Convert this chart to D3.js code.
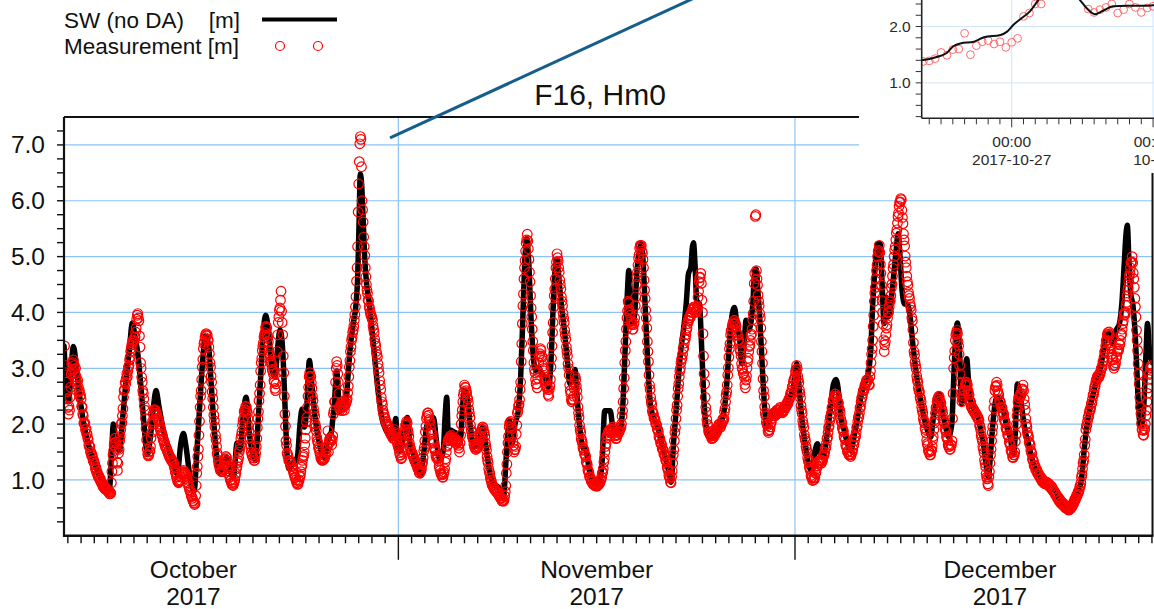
<!DOCTYPE html>
<html>
<head>
<meta charset="utf-8">
<script src="https://cdn.jsdelivr.net/npm/d3@7"></script>
<style>
  html, body { margin: 0; padding: 0; background: #fff; }
  svg { display: block; font-family: "Liberation Sans", Arial, Helvetica, sans-serif; }
</style>
</head>
<body>
<svg id="chart" width="1154" height="609"></svg>
<script>
// ---- Data -------------------------------------------------------------
// Model (SW, no data assimilation): vertices as [day since 2017-10-01 00:00 UTC, Hm0 in m]
const modelDays = [
  5.71, 6.04, 6.42, 6.67, 6.97, 7.30, 7.68, 8.06, 8.44, 8.81, 9.14, 9.32, 9.44, 9.70, 9.90,
  10.15, 10.40, 10.65, 10.88, 11.08, 11.26, 11.51, 11.76, 12.02, 12.27, 12.47, 12.67, 12.90,
  13.23, 13.60, 13.98, 14.28, 14.54, 14.74, 14.94, 15.24, 15.55, 15.75, 15.95, 16.20, 16.40,
  16.63, 16.81, 17.01, 17.21, 17.46, 17.77, 18.02, 18.27, 18.52, 18.80, 19.03, 19.23, 19.48,
  19.73, 19.98, 20.19, 20.41, 20.61, 20.84, 20.97, 21.17, 21.42, 21.67, 21.85, 22.05, 22.25,
  22.43, 22.56, 22.71, 23.01, 23.36, 23.56, 23.72, 23.89, 24.07, 24.27, 24.45, 24.70, 25.03,
  25.3625, 25.47, 25.54, 25.5875, 25.6375, 25.733, 25.804, 25.921, 25.967, 26.0125, 26.071,
  26.129, 26.1625, 26.1875, 26.33, 26.483, 26.529, 26.5875, 26.646, 26.717, 26.8125, 26.929,
  27.0, 27.1, 27.22, 27.39, 27.59, 27.80, 27.92, 28.02, 28.12, 28.22, 28.33, 28.45, 28.60, 28.81,
  29.01, 29.23, 29.49, 29.74, 30.07, 30.42, 30.67, 30.80, 30.95, 31.18, 31.43, 31.68, 31.88,
  32.13, 32.44, 32.69, 32.94, 33.19, 33.39, 33.65, 33.90, 34.15, 34.40, 34.53, 34.66, 34.78,
  34.96, 35.21, 35.46, 35.71, 35.84, 35.97, 36.17, 36.42, 36.72, 37.05, 37.38, 37.63, 37.88,
  38.18, 38.56, 38.94, 39.19, 39.40, 39.60, 39.82, 40.07, 40.25, 40.40, 40.58, 40.71, 40.88,
  41.03, 41.21, 41.39, 41.59, 41.84, 42.09, 42.35, 42.52, 42.72, 42.87, 43.00, 43.18, 43.35,
  43.56, 43.78, 43.98, 44.19, 44.36, 44.54, 44.74, 44.94, 45.19, 45.45, 45.75, 46.13, 46.40,
  46.61, 47.02, 47.22, 47.52, 47.77, 47.97, 48.15, 48.33, 48.43, 48.58, 48.73, 48.88, 49.03,
  49.24, 49.34, 49.49, 49.66, 49.84, 50.04, 50.29, 50.55, 50.80, 51.05, 51.30, 51.50, 51.63,
  51.81, 52.01, 52.19, 52.36, 52.56, 52.77, 52.94, 53.12, 53.24, 53.32, 53.45, 53.57, 53.77,
  53.95, 54.13, 54.28, 54.58, 54.96, 55.34, 55.64, 55.84, 56.04, 56.22, 56.42, 56.60, 56.80,
  56.98, 57.15, 57.30, 57.48, 57.66, 57.81, 57.96, 58.06, 58.19, 58.36, 58.54, 58.72, 58.87,
  59.12, 59.37, 59.62, 60.00, 60.33, 60.58, 60.83, 61.03, 61.14, 61.29, 61.51, 61.77, 62.02,
  62.27, 62.52, 62.70, 62.90, 63.15, 63.40, 63.66, 63.91, 64.11, 64.31, 64.46, 64.72, 64.97,
  65.22, 65.47, 65.73, 65.98, 66.23, 66.48, 66.73, 66.88, 67.06, 67.23, 67.44, 67.59, 67.74,
  67.89, 68.07, 68.24, 68.45, 68.65, 68.80, 68.95, 69.10, 69.30, 69.50, 69.71, 69.91, 70.08,
  70.29, 70.51, 70.76, 71.02, 71.27, 71.47, 71.72, 71.92, 72.13, 72.35, 72.61, 72.86, 73.03,
  73.19, 73.29, 73.44, 73.61, 73.79, 73.99, 74.14, 74.35, 74.60, 74.85, 75.05, 75.25, 75.45,
  75.63, 75.81, 76.01, 76.26, 76.51, 76.77, 77.02, 77.27, 77.52, 77.65, 77.82, 77.98, 78.15,
  78.40, 78.66, 79.04, 79.41, 79.79, 80.17, 80.55, 80.93, 81.30, 81.68, 82.06, 82.44, 82.69,
  82.87, 83.07, 83.32, 83.57, 83.83, 84.08, 84.33, 84.58, 84.78, 85.04, 85.29, 85.54, 85.72,
  85.89, 86.04, 86.14, 86.25, 86.40, 86.55, 86.73, 86.85, 87.00, 87.15, 87.36, 87.56, 87.66,
  87.81, 87.99, 88.04
];
const modelHm0 = [
  3.40, 2.40, 3.39, 2.96, 2.36, 1.89, 1.53, 1.26, 1.05, 0.90, 0.84, 1.53, 2.00, 1.59, 1.53,
  2.12, 2.78, 3.32, 3.81, 3.56, 3.32, 2.72, 2.00, 1.45, 1.83, 2.30, 2.60, 2.30,
  1.89, 1.59, 1.29, 1.11, 1.65, 1.83, 1.59, 1.05, 0.80, 1.47, 2.24, 3.14, 3.58,
  3.44, 2.84, 2.12, 1.53, 1.14, 1.29, 1.41, 1.17, 1.05, 1.66, 1.53, 2.07, 2.48,
  1.83, 1.47, 1.35, 2.12, 2.96, 3.80, 3.95, 3.68, 3.02, 2.84, 3.32, 3.69, 3.32,
  2.30, 1.53, 1.20, 1.29, 1.41, 2.00, 2.27, 1.95, 2.30, 3.14, 2.72, 2.12, 1.65,
  1.40, 1.46, 1.53, 1.65, 1.70, 1.73, 1.81, 1.85, 1.91, 2.03, 2.15,
  2.27, 2.38, 2.47, 2.95, 2.47, 2.33, 2.22, 2.28, 2.36, 2.37, 2.37,
  2.38, 2.55, 2.96, 3.44, 3.80, 4.15, 4.63, 5.53, 6.48, 6.30, 5.71, 4.99, 4.51, 4.15,
  3.68, 3.14, 2.54, 2.12, 1.89, 1.77, 1.89, 2.10, 1.59, 1.53, 1.89, 2.12, 1.65,
  1.47, 1.17, 1.08, 1.53, 2.00, 1.95, 2.12, 1.65, 1.35, 1.53, 2.12, 2.48, 1.77,
  1.89, 1.86, 1.83, 1.77, 2.24, 2.60, 2.54, 2.00, 1.59, 1.65, 1.95, 1.59, 1.17,
  0.93, 0.87, 0.69, 1.53, 2.07, 1.65, 2.00, 2.24, 2.84, 3.80, 4.99, 5.32, 4.81,
  3.92, 3.20, 2.96, 3.02, 2.90, 2.84, 2.66, 3.02, 4.15, 4.81, 4.95, 4.51, 4.09,
  3.68, 3.14, 2.72, 2.84, 2.98, 2.42, 1.89, 1.59, 1.53, 1.17, 0.93, 0.93, 1.30,
  2.24, 2.24, 1.95, 1.83, 1.89, 2.30, 3.32, 4.39, 4.75, 4.15, 3.80, 3.98, 4.69,
  5.11, 5.23, 4.99, 4.15, 3.20, 2.42, 2.12, 2.00, 1.77, 1.53, 1.29, 1.11, 0.96,
  1.65, 2.24, 2.84, 3.32, 3.68, 4.15, 4.69, 4.81, 5.17, 5.25, 4.81, 4.21, 4.15,
  3.32, 2.36, 1.95, 1.77, 1.77, 2.00, 2.24, 2.72, 3.44, 3.92, 4.09, 3.80, 3.56,
  3.08, 3.44, 3.86, 3.68, 3.80, 4.15, 4.75, 4.78, 4.39, 3.80, 2.96, 2.24, 1.95,
  2.12, 2.24, 2.12, 2.24, 2.30, 2.48, 2.60, 2.90, 3.08, 2.72, 2.12, 1.65, 1.29,
  1.15, 1.53, 1.65, 1.47, 1.41, 1.77, 2.24, 2.72, 2.80, 2.54, 2.12, 1.89, 1.65,
  1.53, 1.77, 2.12, 2.48, 2.72, 2.84, 3.32, 4.15, 4.81, 5.23, 5.23, 4.51, 3.80,
  4.27, 3.92, 4.15, 4.63, 5.11, 5.41, 4.99, 4.39, 4.15, 4.15, 3.92, 3.44, 3.08,
  2.72, 2.42, 2.12, 1.89, 1.77, 2.12, 2.42, 2.54, 2.24, 2.00, 1.77, 2.00, 2.96,
  3.68, 3.81, 3.32, 2.36, 2.72, 3.17, 2.72, 2.36, 2.24, 2.12, 1.89, 1.65, 1.29,
  1.05, 1.53, 2.12, 2.48, 2.42, 2.24, 1.95, 1.77, 1.47, 1.77, 2.72, 2.60, 2.30,
  1.89, 1.65, 1.29, 1.11, 0.99, 0.93, 0.87, 0.69, 0.57, 0.50, 0.63, 0.81, 1.05,
  1.53, 1.95, 2.30, 2.54, 2.84, 2.96, 3.32, 3.62, 3.62, 3.44, 3.68, 3.80, 4.15,
  4.81, 5.41, 5.56, 4.99, 4.33, 4.15, 3.62, 3.02, 2.24, 1.95, 2.24, 3.32, 3.80,
  3.32, 3.14, 3.10
];

// Hourly measurements, one row per day, starting 2017-10-06 18:00 UTC
const obsOct = [
  3.40, 3.05, 2.92, 2.75, 2.58, 2.45,
  2.30, 2.18, 2.32, 2.25, 2.48, 2.66, 2.90, 3.08, 2.95, 3.10, 3.15, 2.98, 3.05, 2.90, 3.00, 2.85, 2.76, 2.70, 2.78, 2.66, 2.58, 2.60, 2.50, 2.52,
  2.45, 2.32, 2.30, 2.18, 2.15, 2.02, 2.00, 2.02, 1.90, 1.92, 1.83, 1.82, 1.75, 1.72, 1.63, 1.60, 1.60, 1.50, 1.50, 1.44, 1.45, 1.40, 1.34, 1.35,
  1.30, 1.28, 1.20, 1.22, 1.14, 1.15, 1.10, 1.06, 1.08, 1.05, 1.00, 1.02, 0.98, 0.94, 0.95, 0.92, 0.88, 0.91, 0.88, 0.84, 0.87, 0.85, 0.82, 0.84,
  0.82, 0.79, 0.81, 0.78, 0.75, 0.78, 0.76, 0.95, 1.15, 1.30, 1.45, 1.52, 1.62, 1.66, 1.75, 1.68, 1.55, 1.32, 1.17, 1.30, 1.48, 1.55, 1.70, 1.78,
  1.90, 2.00, 2.03, 2.15, 2.28, 2.48, 2.60, 2.62, 2.75, 2.72, 2.82, 2.90, 2.85, 2.95, 3.02, 3.05, 3.15, 3.20, 3.30, 3.36, 3.42, 3.45, 3.50, 3.48,
  3.50, 3.55, 3.56, 3.65, 3.72, 3.88, 3.95, 3.98, 3.90, 3.85, 3.58, 3.38, 3.10, 3.00, 2.84, 2.75, 2.60, 2.55, 2.45, 2.32, 2.25, 2.10, 1.92, 1.72,
  1.55, 1.46, 1.43, 1.45, 1.50, 1.52, 1.60, 1.75, 1.85, 2.00, 2.06, 2.18, 2.20, 2.26, 2.24, 2.25, 2.20, 2.18, 2.15, 2.10, 2.08, 2.05, 2.00, 1.96,
  1.90, 1.88, 1.82, 1.80, 1.78, 1.72, 1.70, 1.67, 1.62, 1.60, 1.59, 1.55, 1.55, 1.50, 1.49, 1.45, 1.44, 1.40, 1.40, 1.39, 1.35, 1.35, 1.32, 1.33,
  1.30, 1.24, 1.21, 1.15, 1.12, 1.06, 1.05, 0.99, 0.97, 0.95, 0.97, 0.98, 1.00, 1.05, 1.06, 1.10, 1.14, 1.15, 1.17, 1.13, 1.12, 1.10, 1.11, 1.08,
  1.05, 1.01, 0.95, 0.90, 0.87, 0.82, 0.80, 0.77, 0.72, 0.70, 0.67, 0.63, 0.62, 0.59, 0.56, 0.58, 0.72, 0.90, 1.12, 1.24, 1.42, 1.55, 1.80, 2.05,
  2.30, 2.50, 2.60, 2.80, 3.02, 3.16, 3.35, 3.44, 3.48, 3.55, 3.60, 3.62, 3.58, 3.60, 3.52, 3.50, 3.38, 3.26, 3.10, 3.02, 2.86, 2.75, 2.58, 2.46,
  2.30, 2.16, 2.06, 1.95, 1.80, 1.72, 1.60, 1.48, 1.43, 1.35, 1.28, 1.26, 1.20, 1.17, 1.17, 1.15, 1.15, 1.19, 1.20, 1.26, 1.30, 1.35, 1.37, 1.42,
  1.40, 1.34, 1.25, 1.20, 1.16, 1.09, 1.05, 1.00, 0.99, 0.95, 0.92, 0.92, 0.90, 0.94, 0.96, 1.00, 1.07, 1.12, 1.20, 1.24, 1.31, 1.35, 1.40, 1.50,
  1.55, 1.62, 1.74, 1.80, 1.86, 1.98, 2.05, 2.10, 2.22, 2.25, 2.26, 2.32, 2.30, 2.24, 2.20, 2.10, 1.96, 1.88, 1.75, 1.64, 1.60, 1.50, 1.45, 1.44,
  1.40, 1.39, 1.35, 1.35, 1.42, 1.48, 1.60, 1.74, 1.94, 2.10, 2.22, 2.42, 2.55, 2.70, 2.95, 3.10, 3.18, 3.32, 3.40, 3.46, 3.56, 3.60, 3.64, 3.74,
  3.75, 3.72, 3.60, 3.55, 3.47, 3.32, 3.25, 3.22, 3.13, 3.10, 3.06, 2.98, 2.95, 2.90, 2.78, 2.75, 2.64, 2.60, 2.72, 2.92, 3.30, 3.60, 3.82, 3.92,
  4.04, 4.08, 4.22, 4.38, 4.02, 3.82, 3.60, 3.22, 2.92, 2.50, 2.18, 1.96, 1.70, 1.62, 1.48, 1.45, 1.41, 1.35, 1.35, 1.34, 1.30, 1.30, 1.24, 1.24,
  1.20, 1.17, 1.12, 1.10, 1.05, 1.04, 1.00, 0.96, 0.95, 0.92, 0.93, 0.98, 1.00, 1.06, 1.08, 1.15, 1.23, 1.27, 1.35, 1.41, 1.44, 1.50, 1.63, 1.75,
  1.90, 2.04, 2.12, 2.30, 2.50, 2.66, 2.85, 2.92, 2.86, 2.85, 2.74, 2.64, 2.50, 2.42, 2.28, 2.20, 2.14, 2.00, 1.95, 1.88, 1.76, 1.70, 1.66, 1.58,
  1.55, 1.50, 1.46, 1.40, 1.38, 1.36, 1.35, 1.37, 1.36, 1.38, 1.39, 1.43, 1.54, 1.49, 1.59, 1.60, 1.88, 1.50, 1.66, 1.73, 1.75, 1.69, 1.73, 1.63,
  1.72, 1.79, 2.18, 2.24, 2.40, 2.40, 2.75, 3.00, 3.12, 3.05, 2.90, 2.75, 2.55, 2.31, 2.25, 2.30, 2.34, 2.40, 2.24, 2.30, 2.40, 2.34, 2.25, 2.33,
  2.36, 2.38, 2.42, 2.45, 2.56, 2.68, 2.85, 3.02, 3.14, 3.30, 3.38, 3.50, 3.55, 3.64, 3.68, 3.75, 3.86, 3.96, 4.10, 4.28, 4.56, 4.80, 5.18, 5.80,
  6.30, 6.70, 7.02, 7.15, 7.10, 6.61, 6.00, 5.84, 5.62, 5.35, 5.18, 5.02, 4.80, 4.64, 4.50, 4.40, 4.34, 4.22, 4.20, 4.10, 4.06, 4.00, 3.95, 3.94,
  3.90, 3.86, 3.76, 3.70, 3.64, 3.52, 3.45, 3.40, 3.30, 3.25, 3.20, 3.08, 3.00, 2.92, 2.78, 2.70, 2.62, 2.48, 2.40, 2.35, 2.25, 2.20, 2.17, 2.12,
  2.10, 2.05, 2.04, 2.00, 1.97, 1.98, 1.95, 1.90, 1.89, 1.85, 1.84, 1.80, 1.80, 1.79, 1.75, 1.75, 1.80, 1.90, 1.85, 1.82, 1.74, 1.70, 1.67, 1.62
];
const obsNov = [
  1.60, 1.56, 1.49, 1.45, 1.44, 1.38, 1.40, 1.50, 1.58, 1.70, 1.80, 1.83, 1.90, 1.98, 2.00, 2.05, 2.02, 1.90, 1.85, 1.78, 1.66, 1.60, 1.56, 1.50,
  1.50, 1.48, 1.44, 1.42, 1.41, 1.36, 1.35, 1.33, 1.29, 1.28, 1.26, 1.21, 1.20, 1.18, 1.13, 1.12, 1.15, 1.16, 1.20, 1.28, 1.32, 1.40, 1.52, 1.58,
  1.70, 1.86, 1.96, 2.10, 2.14, 2.20, 2.20, 2.16, 2.08, 2.05, 1.99, 1.90, 1.85, 1.82, 1.73, 1.70, 1.66, 1.58, 1.55, 1.52, 1.44, 1.40, 1.42, 1.38,
  1.40, 1.34, 1.25, 1.20, 1.17, 1.12, 1.10, 1.09, 1.05, 1.05, 1.11, 1.14, 1.20, 1.32, 1.38, 1.50, 1.60, 1.62, 1.70, 1.73, 1.72, 1.75, 1.78, 1.76,
  1.80, 1.75, 1.74, 1.70, 1.73, 1.72, 1.75, 1.70, 1.69, 1.65, 1.68, 1.67, 1.70, 1.62, 1.57, 1.50, 1.66, 1.80, 2.00, 2.15, 2.25, 2.40, 2.52, 2.58,
  2.70, 2.66, 2.65, 2.60, 2.56, 2.48, 2.45, 2.38, 2.26, 2.20, 2.12, 1.98, 1.90, 1.86, 1.79, 1.75, 1.72, 1.64, 1.60, 1.59, 1.55, 1.55, 1.58, 1.57,
  1.60, 1.64, 1.66, 1.70, 1.76, 1.79, 1.85, 1.90, 1.91, 1.95, 1.93, 1.86, 1.85, 1.78, 1.66, 1.60, 1.53, 1.42, 1.35, 1.30, 1.20, 1.15, 1.11, 1.04,
  1.00, 0.97, 0.92, 0.90, 0.89, 0.85, 0.85, 0.84, 0.81, 0.80, 0.80, 0.77, 0.78, 0.77, 0.73, 0.72, 0.71, 0.68, 0.68, 0.67, 0.63, 0.62, 0.63, 0.62,
  0.65, 0.71, 0.79, 0.90, 1.12, 1.28, 1.50, 1.66, 1.78, 1.95, 2.02, 2.02, 2.05, 1.97, 1.92, 1.80, 1.68, 1.62, 1.50, 1.54, 1.55, 1.60, 1.82, 1.98,
  2.20, 2.24, 2.32, 2.35, 2.44, 2.62, 2.75, 3.12, 3.44, 3.80, 4.12, 4.33, 4.60, 4.80, 4.93, 5.10, 5.24, 5.30, 5.40, 5.28, 5.14, 4.95, 4.72, 4.55,
  4.30, 4.08, 3.92, 3.70, 3.48, 3.32, 3.10, 2.98, 2.92, 2.80, 2.72, 2.72, 2.65, 2.82, 2.93, 3.10, 3.22, 3.26, 3.35, 3.32, 3.22, 3.20, 3.14, 3.04,
  3.00, 2.95, 2.84, 2.80, 2.77, 2.68, 2.65, 2.62, 2.53, 2.50, 2.62, 2.68, 2.80, 3.02, 3.18, 3.40, 3.64, 3.82, 4.10, 4.30, 4.42, 4.60, 4.80, 4.90,
  5.05, 4.98, 4.92, 4.80, 4.72, 4.58, 4.50, 4.42, 4.28, 4.20, 4.12, 3.98, 3.90, 3.82, 3.68, 3.60, 3.52, 3.38, 3.30, 3.22, 3.08, 3.00, 2.88, 2.70,
  2.60, 2.55, 2.44, 2.40, 2.43, 2.44, 2.50, 2.64, 2.72, 2.85, 2.80, 2.68, 2.60, 2.48, 2.31, 2.20, 2.12, 1.98, 1.90, 1.85, 1.74, 1.70, 1.66, 1.58,
  1.55, 1.53, 1.46, 1.45, 1.42, 1.33, 1.30, 1.27, 1.18, 1.15, 1.13, 1.06, 1.05, 1.03, 0.98, 0.97, 0.97, 0.93, 0.93, 0.93, 0.90, 0.90, 0.91, 0.89,
  0.90, 0.89, 0.92, 0.92, 0.92, 0.95, 0.95, 0.99, 1.01, 1.05, 1.12, 1.14, 1.20, 1.32, 1.38, 1.50, 1.60, 1.65, 1.75, 1.80, 1.80, 1.85, 1.88, 1.86,
  1.90, 1.89, 1.85, 1.85, 1.90, 1.90, 1.95, 1.92, 1.84, 1.80, 1.79, 1.74, 1.75, 1.80, 1.81, 1.85, 1.88, 1.86, 1.90, 1.95, 1.94, 2.00, 2.14, 2.24,
  2.40, 2.64, 2.83, 3.10, 3.32, 3.48, 3.70, 3.90, 4.03, 4.20, 4.17, 4.05, 4.00, 3.95, 3.84, 3.80, 3.78, 3.70, 3.70, 3.78, 3.82, 3.90, 4.12, 4.28,
  4.50, 4.64, 4.72, 4.85, 4.97, 5.03, 5.15, 5.20, 5.18, 5.20, 5.10, 5.06, 4.95, 4.80, 4.58, 4.40, 4.25, 4.04, 3.90, 3.72, 3.48, 3.30, 3.12, 2.88,
  2.70, 2.62, 2.48, 2.40, 2.35, 2.24, 2.20, 2.18, 2.11, 2.10, 2.08, 2.01, 2.00, 1.98, 1.91, 1.90, 1.86, 1.78, 1.75, 1.73, 1.66, 1.65, 1.63, 1.56,
  1.55, 1.53, 1.46, 1.45, 1.43, 1.36, 1.35, 1.32, 1.23, 1.20, 1.16, 1.08, 1.05, 1.03, 0.96, 0.95, 1.06, 1.16, 1.30, 1.45, 1.54, 1.70, 1.85, 1.94,
  2.10, 2.25, 2.34, 2.50, 2.64, 2.72, 2.85, 2.95, 3.00, 3.10, 3.16, 3.18, 3.25, 3.34, 3.36, 3.45, 3.52, 3.53, 3.60, 3.68, 3.72, 3.80, 3.86, 3.85,
  3.90, 3.94, 3.91, 3.95, 4.00, 4.00, 4.05, 4.09, 4.06, 4.10, 4.08, 4.01, 4.00, 4.05, 4.04, 4.10, 4.27, 4.38, 4.55, 4.62, 4.63, 4.70, 4.52, 4.22,
  4.00, 3.62, 3.22, 2.90, 2.72, 2.48, 2.30, 2.22, 2.08, 2.00, 1.97, 1.88, 1.85, 1.85, 1.80, 1.80, 1.80, 1.74, 1.75, 1.79, 1.76, 1.80, 1.84, 1.81,
  1.85, 1.89, 1.86, 1.90, 1.95, 1.95, 2.00, 2.00, 1.94, 1.95, 2.00, 2.00, 2.05, 2.09, 2.06, 2.10, 2.22, 2.28, 2.40, 2.52, 2.58, 2.70, 2.88, 3.01,
  3.20, 3.35, 3.44, 3.60, 3.67, 3.68, 3.75, 3.80, 3.80, 3.85, 3.86, 3.80, 3.80, 3.75, 3.64, 3.60, 3.59, 3.51, 3.50, 3.45, 3.34, 3.30, 3.22, 3.08,
  3.00, 2.98, 2.91, 2.90, 2.84, 2.71, 2.65, 2.79, 2.86, 3.00, 3.12, 3.18, 3.30, 3.39, 3.41, 3.50, 3.59, 3.61, 3.70, 3.87, 3.98, 4.20, 4.52, 4.70,
  5.72, 5.75, 4.75, 4.60, 4.49, 4.31, 4.20, 4.12, 3.98, 3.90, 3.72, 3.48, 3.30, 3.09, 2.81, 2.60, 2.49, 2.31, 2.20, 2.15, 2.04, 2.00, 1.97, 1.88,
  1.85, 1.90, 1.90, 1.95, 2.02, 2.03, 2.10, 2.15, 2.15, 2.20, 2.20, 2.15, 2.15, 2.20, 2.20, 2.25, 2.25, 2.20, 2.20, 2.25, 2.25, 2.30, 2.28, 2.21,
  2.20, 2.24, 2.21, 2.25, 2.29, 2.26, 2.30, 2.34, 2.31, 2.35, 2.39, 2.36, 2.40, 2.45, 2.45, 2.50, 2.55, 2.55, 2.60, 2.67, 2.68, 2.75, 2.80, 2.80
];
const obsDec = [
  2.85, 2.94, 2.98, 3.05, 2.99, 2.86, 2.80, 2.74, 2.61, 2.55, 2.47, 2.33, 2.25, 2.19, 2.06, 2.00, 1.94, 1.81, 1.75, 1.70, 1.60, 1.55, 1.50, 1.40,
  1.35, 1.32, 1.23, 1.20, 1.17, 1.08, 1.05, 1.05, 0.99, 1.00, 1.04, 1.01, 1.05, 1.12, 1.13, 1.20, 1.25, 1.25, 1.30, 1.34, 1.31, 1.35, 1.35, 1.30,
  1.30, 1.35, 1.35, 1.40, 1.45, 1.45, 1.50, 1.57, 1.58, 1.65, 1.74, 1.76, 1.85, 1.94, 1.96, 2.05, 2.12, 2.13, 2.20, 2.29, 2.31, 2.40, 2.45, 2.45,
  2.50, 2.54, 2.49, 2.50, 2.49, 2.41, 2.40, 2.37, 2.28, 2.25, 2.20, 2.10, 2.05, 2.02, 1.93, 1.90, 1.87, 1.78, 1.75, 1.72, 1.63, 1.60, 1.59, 1.51,
  1.50, 1.50, 1.45, 1.45, 1.46, 1.42, 1.45, 1.50, 1.50, 1.55, 1.62, 1.63, 1.70, 1.77, 1.78, 1.85, 1.94, 1.96, 2.05, 2.12, 2.13, 2.20, 2.29, 2.31,
  2.40, 2.47, 2.48, 2.55, 2.60, 2.60, 2.65, 2.70, 2.70, 2.75, 2.79, 2.76, 2.80, 2.79, 2.71, 2.70, 2.85, 2.95, 3.10, 3.25, 3.35, 3.50, 3.75, 3.95,
  4.20, 4.35, 4.45, 4.60, 4.75, 4.85, 5.00, 5.09, 5.11, 5.20, 5.07, 4.86, 4.70, 4.49, 4.21, 4.00, 3.79, 3.51, 3.30, 3.42, 3.48, 3.60, 3.72, 3.78,
  3.90, 3.99, 4.01, 4.10, 4.19, 4.21, 4.30, 4.44, 4.51, 4.65, 4.79, 4.86, 5.00, 5.12, 5.18, 5.30, 5.42, 5.48, 5.60, 5.72, 5.78, 5.90, 5.97, 5.98,
  6.04, 6.02, 5.83, 5.70, 5.59, 5.41, 5.30, 5.19, 5.01, 4.90, 4.80, 4.65, 4.55, 4.49, 4.36, 4.30, 4.25, 4.15, 4.10, 4.04, 3.91, 3.85, 3.69, 3.46,
  3.30, 3.24, 3.11, 3.05, 2.99, 2.86, 2.80, 2.75, 2.65, 2.60, 2.57, 2.48, 2.45, 2.40, 2.30, 2.25, 2.20, 2.10, 2.05, 2.02, 1.93, 1.90, 1.84, 1.71,
  1.65, 1.62, 1.53, 1.50, 1.50, 1.45, 1.45, 1.52, 1.53, 1.60, 1.72, 1.78, 1.90, 2.02, 2.08, 2.20, 2.29, 2.31, 2.40, 2.45, 2.45, 2.50, 2.49, 2.41,
  2.40, 2.37, 2.28, 2.25, 2.20, 2.10, 2.05, 2.02, 1.93, 1.90, 1.87, 1.78, 1.75, 1.72, 1.63, 1.60, 1.60, 1.55, 1.55, 1.62, 1.63, 1.70, 2.10, 2.55,
  3.00, 3.19, 3.31, 3.50, 3.60, 3.63, 3.68, 3.62, 3.48, 3.40, 3.25, 3.05, 2.90, 2.75, 2.55, 2.40, 2.45, 2.45, 2.50, 2.59, 2.61, 2.70, 2.74, 2.71,
  2.75, 2.70, 2.60, 2.55, 2.52, 2.43, 2.40, 2.39, 2.31, 2.30, 2.30, 2.25, 2.25, 2.25, 2.20, 2.20, 2.20, 2.15, 2.15, 2.15, 2.10, 2.10, 2.07, 1.98,
  1.95, 1.90, 1.80, 1.75, 1.70, 1.60, 1.55, 1.49, 1.36, 1.30, 1.24, 1.11, 1.05, 1.02, 0.93, 0.90, 1.05, 1.15, 1.30, 1.45, 1.55, 1.70, 1.85, 1.95,
  2.10, 2.29, 2.41, 2.60, 2.67, 2.68, 2.75, 2.70, 2.60, 2.55, 2.52, 2.43, 2.40, 2.39, 2.31, 2.30, 2.29, 2.21, 2.20, 2.17, 2.08, 2.05, 2.02, 1.93,
  1.90, 1.89, 1.81, 1.80, 1.77, 1.68, 1.65, 1.62, 1.53, 1.50, 1.49, 1.41, 1.40, 1.45, 1.45, 1.50, 1.69, 1.81, 2.00, 2.15, 2.25, 2.40, 2.47, 2.46,
  2.50, 2.54, 2.51, 2.55, 2.62, 2.63, 2.70, 2.60, 2.45, 2.35, 2.25, 2.10, 2.00, 1.95, 1.85, 1.80, 1.77, 1.68, 1.65, 1.62, 1.53, 1.50, 1.47, 1.38,
  1.35, 1.34, 1.26, 1.25, 1.25, 1.18, 1.18, 1.18, 1.12, 1.12, 1.12, 1.07, 1.07, 1.07, 1.02, 1.02, 1.03, 0.97, 0.98, 0.99, 0.94, 0.95, 0.97, 0.93,
  0.95, 0.96, 0.92, 0.93, 0.94, 0.89, 0.90, 0.91, 0.86, 0.87, 0.88, 0.82, 0.83, 0.83, 0.78, 0.78, 0.78, 0.73, 0.73, 0.73, 0.68, 0.68, 0.69, 0.63,
  0.64, 0.65, 0.59, 0.60, 0.61, 0.56, 0.57, 0.58, 0.53, 0.54, 0.55, 0.50, 0.51, 0.52, 0.48, 0.49, 0.50, 0.46, 0.47, 0.49, 0.48, 0.50, 0.54, 0.52,
  0.55, 0.59, 0.58, 0.62, 0.66, 0.64, 0.68, 0.72, 0.71, 0.75, 0.79, 0.78, 0.82, 0.88, 0.89, 0.95, 1.05, 1.10, 1.20, 1.30, 1.35, 1.45, 1.62, 1.73,
  1.90, 1.97, 1.98, 2.05, 2.12, 2.13, 2.20, 2.25, 2.25, 2.30, 2.37, 2.38, 2.45, 2.52, 2.53, 2.60, 2.67, 2.68, 2.75, 2.80, 2.80, 2.85, 2.87, 2.83,
  2.85, 2.90, 2.90, 2.95, 3.00, 3.00, 3.05, 3.12, 3.13, 3.20, 3.29, 3.31, 3.40, 3.49, 3.51, 3.60, 3.64, 3.61, 3.65, 3.59, 3.46, 3.40, 3.35, 3.25,
  3.20, 3.15, 3.05, 3.00, 3.05, 3.05, 3.10, 3.19, 3.21, 3.30, 3.34, 3.31, 3.35, 3.42, 3.43, 3.50, 3.59, 3.61, 3.70, 3.80, 3.85, 3.95, 3.99, 3.96,
  4.00, 4.12, 4.18, 4.30, 4.40, 4.45, 4.55, 4.65, 4.70, 4.80, 4.89, 4.91, 5.00, 4.89, 4.71, 4.60, 4.45, 4.25, 4.10, 3.92, 3.68, 3.50, 3.32, 3.08,
  2.90, 2.72, 2.48, 2.30, 2.19, 2.01, 1.90, 1.89, 1.81, 1.80, 1.89, 1.91, 2.00, 2.15, 2.25, 2.40, 2.55, 2.65, 2.80, 2.89, 2.91, 3.00, 3.04, 3.01,
  3.05
];

const yTickLabels = ["1.0", "2.0", "3.0", "4.0", "5.0", "6.0", "7.0"];
const months = [
  { name: "October", year: "2017" },
  { name: "November", year: "2017" },
  { name: "December", year: "2017" }
];
const legendLabels = { model: "SW (no DA)", obs: "Measurement", unit: "[m]" };
const title = "F16, Hm0";

// ---- Setup -------------------------------------------------------------
const DAY = 86400000, HOUR = 3600000;
const t0 = Date.UTC(2017, 9, 1);
const svg = d3.select("#chart");

const plot = { left: 64, right: 1152.5, top: 117, bottom: 535.8 };
const x = d3.scaleUtc()
  .domain([new Date(Date.UTC(2017, 9, 6, 17)), new Date(Date.UTC(2017, 11, 28, 1))])
  .range([plot.left, plot.right]);
const y = d3.scaleLinear().domain([0, 7.5]).range([plot.bottom, plot.top]);

const GRID = "#8cc3f6";

const defs = svg.append("defs");
defs.append("clipPath").attr("id", "plotClip")
  .append("rect").attr("x", plot.left).attr("y", plot.top)
  .attr("width", plot.right - plot.left).attr("height", plot.bottom - plot.top);

// ---- Grid -------------------------------------------------------------
const gGrid = svg.append("g");
gGrid.selectAll("line.h").data(yTickLabels.map(Number)).join("line")
  .attr("x1", plot.left).attr("x2", plot.right)
  .attr("y1", d => y(d)).attr("y2", d => y(d))
  .attr("stroke", GRID).attr("stroke-width", 1.2);

const monthStarts = d3.utcMonth.range(x.domain()[0], x.domain()[1]);
gGrid.selectAll("line.v").data(monthStarts).join("line")
  .attr("x1", d => x(d)).attr("x2", d => x(d))
  .attr("y1", plot.top).attr("y2", plot.bottom)
  .attr("stroke", GRID).attr("stroke-width", 1.2);

// ---- Data -------------------------------------------------------------
const model = modelDays.map((d, i) => ({ t: new Date(t0 + d * DAY), v: modelHm0[i] }));
const obsStart = Date.UTC(2017, 9, 6, 18);
const obs = [...obsOct, ...obsNov, ...obsDec].map((v, i) => ({ t: new Date(obsStart + i * HOUR), v }));

const gData = svg.append("g").attr("clip-path", "url(#plotClip)");
gData.append("path").datum(model)
  .attr("fill", "none").attr("stroke", "#000").attr("stroke-width", 5.5)
  .attr("stroke-linejoin", "round").attr("stroke-linecap", "round")
  .attr("d", d3.line().x(d => x(d.t)).y(d => y(d.v)).curve(d3.curveMonotoneX));

gData.selectAll("circle").data(obs).join("circle")
  .attr("cx", d => x(d.t)).attr("cy", d => y(d.v)).attr("r", 4.8)
  .attr("fill", "none").attr("stroke", "#ff0000").attr("stroke-width", 1.2);

// ---- Axes / frame -----------------------------------------------------
const gAxis = svg.append("g").attr("fill", "none");
gAxis.append("line").attr("x1", plot.left).attr("x2", plot.right).attr("y1", plot.top).attr("y2", plot.top)
  .attr("stroke", "#111").attr("stroke-width", 2);
gAxis.append("line").attr("x1", plot.right).attr("x2", plot.right).attr("y1", plot.top).attr("y2", plot.bottom)
  .attr("stroke", "#111").attr("stroke-width", 2);
gAxis.append("line").attr("x1", plot.left).attr("x2", plot.left).attr("y1", plot.top).attr("y2", plot.bottom + 1)
  .attr("stroke", "#111").attr("stroke-width", 2.2);
gAxis.append("line").attr("x1", plot.left - 1).attr("x2", plot.right + 1).attr("y1", plot.bottom).attr("y2", plot.bottom)
  .attr("stroke", "#111").attr("stroke-width", 2.6);

// y ticks every 0.25
const yMinor = d3.range(1, 30).map(i => i * 0.25);
gAxis.selectAll("line.yt").data(yMinor).join("line")
  .attr("x1", plot.left - 7).attr("x2", plot.left)
  .attr("y1", d => y(d)).attr("y2", d => y(d))
  .attr("stroke", "#111").attr("stroke-width", 1.4);
svg.append("g").selectAll("text").data(yTickLabels).join("text")
  .attr("x", plot.left - 19).attr("y", d => y(+d)).attr("dy", "0.35em")
  .attr("text-anchor", "end").attr("font-size", 24.5).attr("fill", "#111")
  .text(d => d);

// x ticks: daily minor, monthly major
const days = d3.utcDay.range(x.domain()[0], new Date(+x.domain()[1] + 1));
gAxis.selectAll("line.xt").data(days).join("line")
  .attr("x1", d => x(d)).attr("x2", d => x(d))
  .attr("y1", plot.bottom).attr("y2", d => plot.bottom + (d.getUTCDate() === 1 ? 24 : 7.5))
  .attr("stroke", "#111").attr("stroke-width", 1.4);

// month labels, centred on mid-month
const gMonths = svg.append("g").attr("font-size", 24.5).attr("fill", "#111").attr("text-anchor", "middle");
months.forEach((m, i) => {
  const start = Date.UTC(2017, 9 + i, 1), end = Date.UTC(2017, 10 + i, 1);
  const mid = new Date((start + end) / 2);
  gMonths.append("text").attr("x", x(mid)).attr("y", 578).text(m.name);
  gMonths.append("text").attr("x", x(mid)).attr("y", 605).text(m.year);
});

// ---- Title ------------------------------------------------------------
svg.append("text").attr("x", 600).attr("y", 105).attr("text-anchor", "middle")
  .attr("font-size", 30).attr("fill", "#111").text(title);

// ---- Leader line towards the zoomed view -----------------------------
const leader = [{ d: 30.37, v: 7.125 }, { d: 54.71, v: 9.776 }];
svg.append("line")
  .attr("x1", x(new Date(t0 + leader[0].d * DAY))).attr("y1", y(leader[0].v))
  .attr("x2", x(new Date(t0 + leader[1].d * DAY))).attr("y2", y(leader[1].v))
  .attr("stroke", "#155d8b").attr("stroke-width", 3);

// ---- Zoomed view (inset) around 2017-10-27 ---------------------------
const inset = { left: 921.7, bottom: 118.3 };
const gIn = svg.append("g");
gIn.append("rect").attr("x", 859).attr("y", -5).attr("width", 300).attr("height", 178).attr("fill", "#fff");

const xi = d3.scaleUtc()
  .domain([new Date(Date.UTC(2017, 9, 26, 8, 43)), new Date(Date.UTC(2017, 9, 28, 12))])
  .range([inset.left, inset.left + 51.28 * 5.89]);
const yi = d3.scaleLinear().domain([0.37, 3.3]).range([inset.bottom, inset.bottom - 2.93 * 56.3]);

defs.append("clipPath").attr("id", "insetClip")
  .append("rect").attr("x", inset.left).attr("y", -60).attr("width", 400).attr("height", inset.bottom + 60);

const INGRID = "#cfe5fb";
gIn.selectAll("line.ih").data([1, 2, 3]).join("line")
  .attr("x1", inset.left).attr("x2", 1160).attr("y1", d => yi(d)).attr("y2", d => yi(d))
  .attr("stroke", INGRID).attr("stroke-width", 1);
const inDays = d3.utcDay.range(xi.domain()[0], xi.domain()[1]);
gIn.selectAll("line.iv").data(inDays).join("line")
  .attr("x1", d => xi(d)).attr("x2", d => xi(d)).attr("y1", -10).attr("y2", inset.bottom)
  .attr("stroke", INGRID).attr("stroke-width", 1);

const inRange = d => d.t >= xi.domain()[0] - 6 * HOUR && d.t <= +xi.domain()[1] + 6 * HOUR;
const gInData = gIn.append("g").attr("clip-path", "url(#insetClip)");
gInData.selectAll("circle").data(obs.filter(inRange)).join("circle")
  .attr("cx", d => xi(d.t)).attr("cy", d => yi(d.v)).attr("r", 3.9)
  .attr("fill", "none").attr("stroke", "#ff6b6b").attr("stroke-width", 1);
gInData.append("path").datum(model.filter(inRange))
  .attr("fill", "none").attr("stroke", "#111").attr("stroke-width", 2)
  .attr("d", d3.line().x(d => xi(d.t)).y(d => yi(d.v)).curve(d3.curveMonotoneX));

// inset axes
gIn.append("line").attr("x1", inset.left).attr("x2", inset.left).attr("y1", -10).attr("y2", inset.bottom)
  .attr("stroke", "#222").attr("stroke-width", 1.6);
gIn.append("line").attr("x1", inset.left).attr("x2", 1160).attr("y1", inset.bottom).attr("y2", inset.bottom)
  .attr("stroke", "#222").attr("stroke-width", 1.6);
gIn.selectAll("line.iyt").data(d3.range(2, 17).map(i => i * 0.2)).join("line")
  .attr("x1", inset.left - 6).attr("x2", inset.left).attr("y1", d => yi(d)).attr("y2", d => yi(d))
  .attr("stroke", "#333").attr("stroke-width", 1);
gIn.selectAll("text.iyl").data(["1.0", "2.0"]).join("text")
  .attr("x", inset.left - 11).attr("y", d => yi(+d)).attr("dy", "0.35em")
  .attr("text-anchor", "end").attr("font-size", 15.5).attr("fill", "#2a2a2a").text(d => d);
const inHours = d3.utcHour.every(2).range(xi.domain()[0], xi.domain()[1]);
gIn.selectAll("line.ixt").data(inHours).join("line")
  .attr("x1", d => xi(d)).attr("x2", d => xi(d)).attr("y1", inset.bottom)
  .attr("y2", d => inset.bottom + (d.getUTCHours() === 0 ? 9 : 6))
  .attr("stroke", "#333").attr("stroke-width", 1);
// first day label carries the year, later ones month-day only
const fmtFull = d3.utcFormat("%Y-%m-%d"), fmtShort = d3.utcFormat("%m-%d");
inDays.forEach((d, i) => {
  gIn.append("text").attr("x", xi(d)).attr("y", 146.5).attr("text-anchor", "middle")
    .attr("font-size", 15.5).attr("fill", "#2a2a2a").text("00:00");
  gIn.append("text").attr("x", xi(d)).attr("y", 164.5).attr("text-anchor", "middle")
    .attr("font-size", 15.5).attr("fill", "#2a2a2a").text(i === 0 ? fmtFull(d) : fmtShort(d));
});

// ---- Legend -----------------------------------------------------------
const gLeg = svg.append("g").attr("font-size", 22.5).attr("fill", "#111");
gLeg.append("text").attr("x", 64).attr("y", 28).text(legendLabels.model);
gLeg.append("text").attr("x", 240).attr("y", 28).attr("text-anchor", "end").text(legendLabels.unit);
gLeg.append("text").attr("x", 64).attr("y", 54).text(legendLabels.obs + " " + legendLabels.unit);
gLeg.append("line").attr("x1", 262).attr("x2", 337).attr("y1", 19.5).attr("y2", 19.5)
  .attr("stroke", "#000").attr("stroke-width", 4);
gLeg.selectAll("circle").data([280, 318]).join("circle")
  .attr("cx", d => d).attr("cy", 46).attr("r", 4.5)
  .attr("fill", "none").attr("stroke", "#ff0000").attr("stroke-width", 1.2);
</script>
</body>
</html>
